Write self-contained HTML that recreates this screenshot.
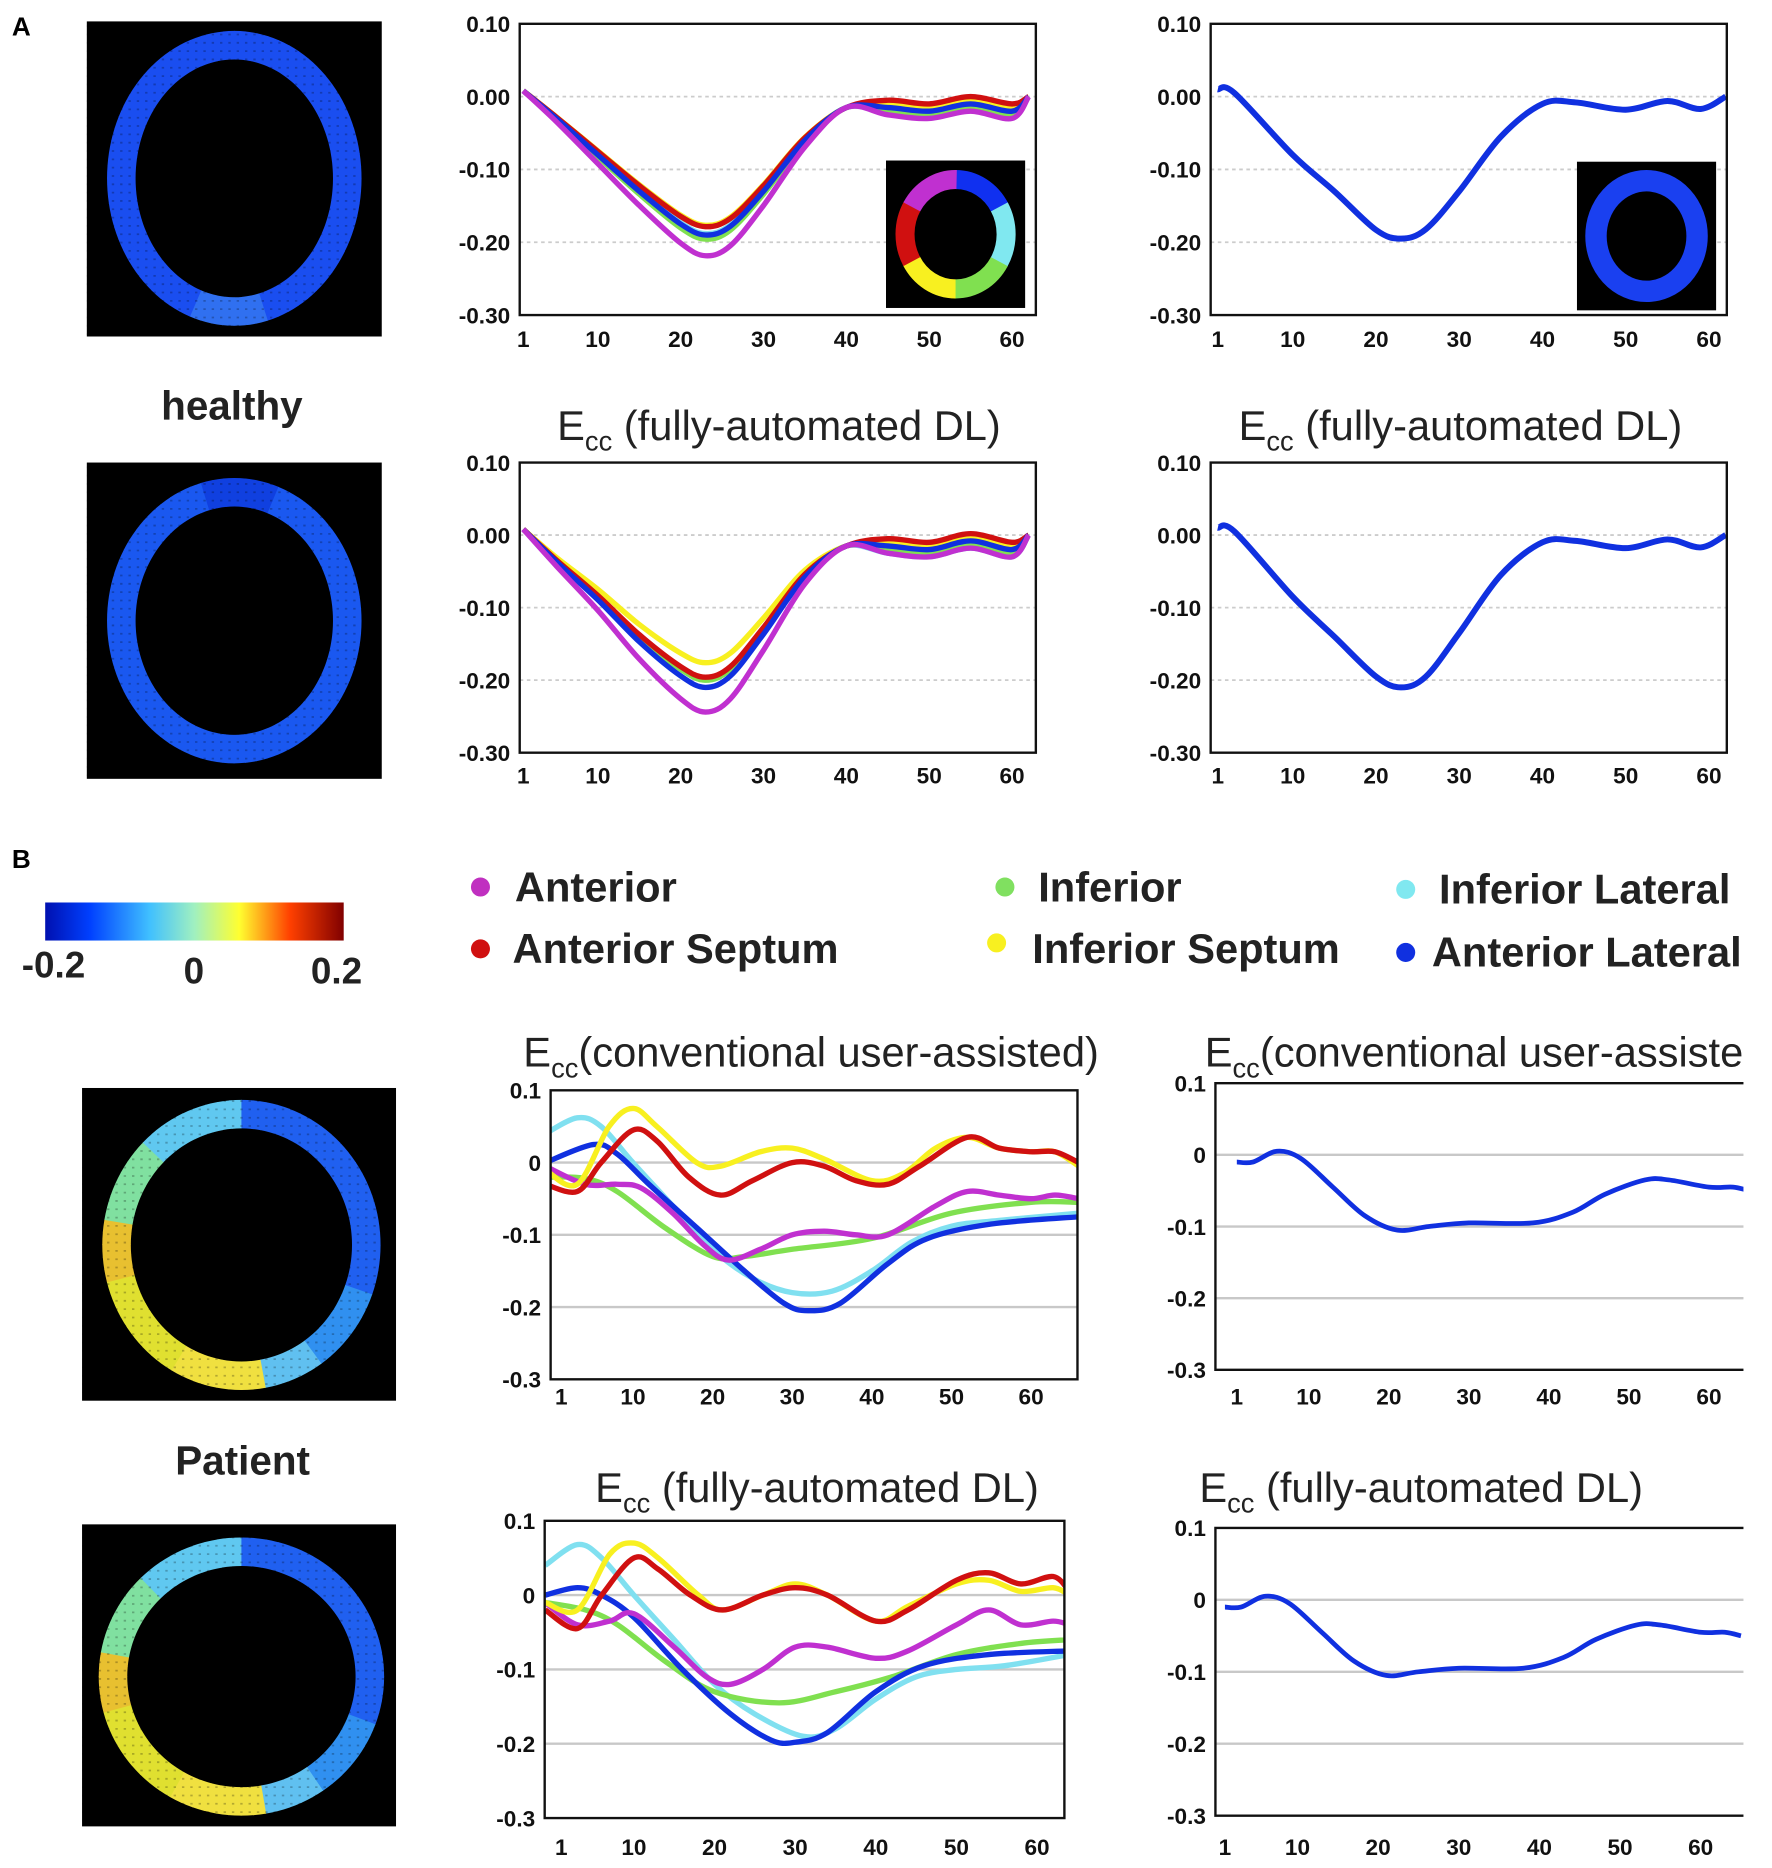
<!DOCTYPE html>
<html><head><meta charset="utf-8"><style>
html,body{margin:0;padding:0;background:#fff;}
svg{display:block;}
.t{font-family:"Liberation Sans",sans-serif;}
.tk{font-family:"Liberation Sans",sans-serif;font-weight:bold;font-size:19px;fill:#111;}
.ti{font-family:"Liberation Sans",sans-serif;font-size:35px;fill:#222;}
.lg{font-family:"Liberation Sans",sans-serif;font-weight:bold;font-size:35px;fill:#222;}
</style></head><body>
<svg id="s" width="1772" height="1868" viewBox="0 0 1490 1571" preserveAspectRatio="none" xmlns="http://www.w3.org/2000/svg">
<rect width="1490" height="1571" fill="#fff"/>
<text x="10" y="30" class="t" font-weight="bold" font-size="22">A</text>
<text x="10" y="730" class="t" font-weight="bold" font-size="22">B</text>
<text x="195" y="353" class="t" font-weight="bold" font-size="34" text-anchor="middle" fill="#222">healthy</text>
<text x="204" y="1240" class="t" font-weight="bold" font-size="34" text-anchor="middle" fill="#222">Patient</text>
<text x="655" y="370" class="ti" text-anchor="middle">E<tspan font-size="23" dy="9">cc</tspan><tspan dy="-9"> (fully-automated DL)</tspan></text>
<text x="1228" y="370" class="ti" text-anchor="middle">E<tspan font-size="23" dy="9">cc</tspan><tspan dy="-9"> (fully-automated DL)</tspan></text>
<text x="682" y="897" class="ti" text-anchor="middle">E<tspan font-size="23" dy="9">cc</tspan><tspan dy="-9">(conventional user-assisted)</tspan></text>
<svg x="0" y="850" width="1466" height="80" overflow="hidden"><text x="1013" y="47" class="ti">E<tspan font-size="23" dy="9">cc</tspan><tspan dy="-9">(conventional user-assisted)</tspan></text></svg>
<text x="687" y="1263" class="ti" text-anchor="middle">E<tspan font-size="23" dy="9">cc</tspan><tspan dy="-9"> (fully-automated DL)</tspan></text>
<text x="1195" y="1263" class="ti" text-anchor="middle">E<tspan font-size="23" dy="9">cc</tspan><tspan dy="-9"> (fully-automated DL)</tspan></text>
<defs>
<linearGradient id="jet" x1="0" x2="1">
<stop offset="0" stop-color="#0010b0"/><stop offset="0.15" stop-color="#0040ff"/><stop offset="0.35" stop-color="#40c0ff"/><stop offset="0.5" stop-color="#a0f0c0"/><stop offset="0.65" stop-color="#ffff30"/><stop offset="0.82" stop-color="#ff4000"/><stop offset="1" stop-color="#800000"/>
</linearGradient>
</defs>
<rect x="38" y="759" width="251" height="32" fill="url(#jet)"/>
<text x="45" y="822" class="t" font-weight="bold" font-size="31" text-anchor="middle" fill="#222">-0.2</text>
<text x="163" y="827" class="t" font-weight="bold" font-size="31" text-anchor="middle" fill="#222">0</text>
<text x="283" y="827" class="t" font-weight="bold" font-size="31" text-anchor="middle" fill="#222">0.2</text>
<circle cx="404" cy="746" r="8" fill="#c030c0"/><text x="433" y="758" class="lg">Anterior</text>
<circle cx="845" cy="746" r="8" fill="#80e060"/><text x="873" y="758" class="lg">Inferior</text>
<circle cx="1182" cy="748" r="8" fill="#80e8f0"/><text x="1210" y="760" class="lg">Inferior Lateral</text>
<circle cx="404" cy="798" r="8" fill="#d01010"/><text x="431" y="810" class="lg">Anterior Septum</text>
<circle cx="838" cy="793" r="8" fill="#f8f020"/><text x="868" y="810" class="lg">Inferior Septum</text>
<circle cx="1182" cy="801" r="8" fill="#1030e0"/><text x="1204" y="813" class="lg">Anterior Lateral</text>
<g id="g"></g>
</svg>
<script>
var NS="http://www.w3.org/2000/svg",G=document.getElementById('g');
function el(t,a,p){var e=document.createElementNS(NS,t);for(var k in a)e.setAttribute(k,a[k]);(p||G).appendChild(e);return e;}
function txt(x,y,s,c,anc){var e=el('text',{x:x,y:y,'class':c,'text-anchor':anc||'middle'});e.textContent=s;return e;}
function heat(x0,y0,x1,y1,rx,ry,cx,cy,segs){
  el('rect',{x:x0,y:y0,width:x1-x0,height:y1-y0,fill:'#000'});
  var N=72;
  for(var i=0;i<N;i++){var a0=i/N*2*Math.PI,a1=(i+1.05)/N*2*Math.PI;
    var c=segs(i/N);
    var p='M'+(cx+rx*Math.cos(a0))+' '+(cy+ry*Math.sin(a0))+' A'+rx+' '+ry+' 0 0 1 '+(cx+rx*Math.cos(a1))+' '+(cy+ry*Math.sin(a1));
    el('path',{d:p,stroke:c,'stroke-width':24,fill:'none'});}
  var pat='';
  for(var yy=y0+4;yy<y1;yy+=7)pat+='M'+x0+' '+yy+'H'+x1;
  el('path',{d:pat,stroke:'rgba(0,0,0,0.25)','stroke-width':1.5,'stroke-dasharray':'2 5',fill:'none'});
}
heat(73,18,321,283,95,112,197,150,function(t){return t>0.2&&t<0.3?'#3070f0':'#1a4ef0';});
heat(73,389,321,655,95,108,197,522,function(t){return t>0.7&&t<0.8?'#1040e0':'#1a58f0';});
function pat(t){
 if(t>0.22&&t<0.33)return '#f0e040';
 if(t>=0.33&&t<0.45)return '#e0e030';
 if(t>=0.45&&t<0.52)return '#e8c030';
 if(t>=0.52&&t<0.62)return '#80e0a0';
 if(t>=0.62&&t<0.74)return '#60c8f0';
 if(t>=0.15&&t<=0.22)return '#60c0f0';
 if(t>=0.05&&t<0.15)return '#3090f0';
 return '#2060f0';}
heat(69,915,333,1178,105,110,203,1047,pat);
heat(69,1282,333,1536,108,105,203,1410,pat);
function cr(pts){
 var d='M'+pts[0][0]+' '+pts[0][1];
 for(var i=0;i<pts.length-1;i++){var p0=pts[i-1]||pts[i],p1=pts[i],p2=pts[i+1],p3=pts[i+2]||p2;
  d+=' C'+(p1[0]+(p2[0]-p0[0])/6)+' '+(p1[1]+(p2[1]-p0[1])/6)+' '+(p2[0]-(p3[0]-p1[0])/6)+' '+(p2[1]-(p3[1]-p1[1])/6)+' '+p2[0]+' '+p2[1];}
 return d;}
function chart(o){
 var fx=function(v){return o.x1p+(v-1)*(o.x60p-o.x1p)/59;};
 var fy=function(v){return o.y0+(o.ymax-v)/(o.ymax-o.ymin)*(o.y1-o.y0);};
 for(var i=0;i<o.yt.length;i++){var v=o.yt[i],y=fy(v);
  if(i>0&&i<o.yt.length-1)el('line',{x1:o.x0,x2:o.x1,y1:y,y2:y,stroke:o.dot?'#ccc':'#c8c8c8','stroke-width':o.dot?1.5:2,'stroke-dasharray':o.dot?'3 3':'none'});
  txt(o.x0-8,y+7,o.yl[i],'tk','end');}
 var cl='c'+Math.round(o.x0)+Math.round(o.y0);
 var cp=el('clipPath',{id:cl});el('rect',{x:o.x0,y:o.y0-10,width:o.x1-o.x0,height:o.y1-o.y0+20},cp);
 var g=el('g',{'clip-path':'url(#'+cl+')'});
 o.series.forEach(function(s){var pts=s[1].map(function(p){return [fx(p[0]),fy(p[1])];});
  el('path',{d:cr(pts),stroke:s[0],'stroke-width':o.w||4.5,fill:'none','stroke-linejoin':'round'},g);});
 var b;
 if(o.noright)b='M'+o.x1+' '+o.y0+' H'+o.x0+' V'+o.y1+' H'+o.x1;
 else b='M'+o.x0+' '+o.y0+' H'+o.x1+' V'+o.y1+' H'+o.x0+' Z';
 el('path',{d:b,stroke:'#111','stroke-width':2,fill:'none'});
 [1,10,20,30,40,50,60].forEach(function(v){txt(fx(v),o.xly,String(v),'tk');});
 return {fx:fx,fy:fy};}
var MAG='#c030d0',RED='#d01010',YEL='#f8f020',GRN='#80e050',CYA='#80e0f0',BLU='#1030e0';
function hA(k,e){return [[1,0.008],[5,-0.03*k],[10,-0.08*k],[15,-0.13*k],[20,-0.175*k],[23,-0.19*k],[26,-0.178*k],[30,-0.13*k],[35,-0.06*k],[40,-0.015],[45,-0.01-e],[50,-0.015-e],[55,-0.005-e],[60,-0.015-e],[62,0]];}
function hB(k,e){return [[1,0.008],[5,-0.035*k],[10,-0.085*k],[15,-0.14*k],[20,-0.185*k],[23,-0.2*k],[26,-0.185*k],[30,-0.13*k],[35,-0.055*k],[40,-0.015],[45,-0.01-e],[50,-0.015-e],[55,-0.003-e],[60,-0.015-e],[62,0]];}
var A1={x0:437,x1:871,y0:20,y1:265,ymax:0.1,ymin:-0.3,x1p:440,x60p:851,xly:292,dot:1,
 yt:[0.1,0,-0.1,-0.2,-0.3],yl:['0.10','0.00','-0.10','-0.20','-0.30'],
 series:[[CYA,hA(0.99,0.012)],[YEL,hA(0.93,0)],[RED,hA(0.94,-0.005)],[GRN,hA(1.03,0.01)],[BLU,hA(1.0,0.005)],[MAG,hA(1.15,0.015)]]};
chart(A1);
var A2=Object.assign({},A1,{x0:1018,x1:1452,x1p:1024,x60p:1437,series:[[BLU,[[1,0.01],[3,0.005],[10,-0.08],[15,-0.13],[20,-0.183],[23,-0.195],[26,-0.182],[30,-0.13],[35,-0.055],[40,-0.01],[44,-0.008],[50,-0.018],[55,-0.006],[59,-0.017],[62,0]]]],w:5});
chart(A2);
var A3=Object.assign({},A1,{y0:389,y1:633,xly:659,series:[[CYA,hB(1.0,0.015)],[GRN,hB(1.0,0.01)],[YEL,hB(0.88,0)],[RED,hB(0.98,-0.005)],[BLU,hB(1.05,0.005)],[MAG,hB(1.22,0.015)]]});
chart(A3);
var A4=Object.assign({},A2,{y0:389,y1:633,xly:659,series:[[BLU,[[1,0.01],[3,0.005],[10,-0.085],[15,-0.14],[20,-0.195],[23,-0.21],[26,-0.195],[30,-0.135],[35,-0.055],[40,-0.01],[44,-0.008],[50,-0.018],[55,-0.006],[59,-0.017],[62,0]]]]});
chart(A4);
var B1={x0:463,x1:906,y0:917,y1:1160,ymax:0.1,ymin:-0.3,x1p:472,x60p:867,xly:1181,
 yt:[0.1,0,-0.1,-0.2,-0.3],yl:['0.1','0','-0.1','-0.2','-0.3'],
 series:[
 [CYA,[[-1,0.04],[3,0.062],[6,0.05],[10,0.0],[15,-0.06],[20,-0.12],[25,-0.16],[30,-0.18],[35,-0.178],[40,-0.15],[45,-0.11],[50,-0.088],[56,-0.08],[66,-0.07]]],
 [GRN,[[-1,-0.02],[4,-0.022],[8,-0.04],[14,-0.09],[20,-0.13],[24,-0.13],[30,-0.12],[40,-0.105],[50,-0.07],[60,-0.055],[66,-0.055]]],
 [BLU,[[-1,0.0],[5,0.025],[8,0.012],[12,-0.03],[18,-0.09],[24,-0.15],[29,-0.195],[32,-0.205],[36,-0.195],[42,-0.14],[47,-0.105],[55,-0.085],[66,-0.075]]],
 [MAG,[[-1,-0.005],[4,-0.03],[8,-0.03],[11,-0.035],[15,-0.07],[19,-0.115],[22,-0.135],[26,-0.12],[30,-0.1],[34,-0.095],[38,-0.1],[42,-0.1],[48,-0.06],[52,-0.04],[56,-0.045],[60,-0.05],[63,-0.045],[66,-0.05]]],
 [YEL,[[-1,-0.01],[3,-0.03],[7,0.05],[10,0.075],[13,0.05],[18,0.0],[21,-0.005],[26,0.015],[30,0.02],[34,0.005],[40,-0.025],[44,-0.015],[48,0.02],[52,0.035],[56,0.02],[60,0.015],[63,0.015],[66,-0.005]]],
 [RED,[[-1,-0.03],[3,-0.04],[6,0.0],[10,0.045],[13,0.03],[17,-0.02],[21,-0.045],[25,-0.025],[30,0.0],[34,-0.005],[38,-0.025],[42,-0.03],[46,-0.005],[52,0.035],[56,0.02],[60,0.015],[63,0.015],[66,0.0]]]
 ]};
chart(B1);
var bb=[[1,-0.01],[3,-0.01],[6,0.005],[9,-0.005],[13,-0.045],[17,-0.085],[21,-0.105],[25,-0.1],[30,-0.095],[38,-0.095],[43,-0.08],[47,-0.055],[52,-0.035],[55,-0.035],[60,-0.045],[63,-0.045],[65,-0.05]];
chart({x0:1022,x1:1466,y0:911,y1:1152,ymax:0.1,ymin:-0.3,x1p:1040,x60p:1437,xly:1181,noright:1,w:4,
 yt:[0.1,0,-0.1,-0.2,-0.3],yl:['0.1','0','-0.1','-0.2','-0.3'],series:[[BLU,bb]]});
var B3={x0:458,x1:895,y0:1279,y1:1529,ymax:0.1,ymin:-0.3,x1p:472,x60p:872,xly:1560,
 yt:[0.1,0,-0.1,-0.2,-0.3],yl:['0.1','0','-0.1','-0.2','-0.3'],
 series:[
 [CYA,[[-1,0.04],[3,0.068],[6,0.05],[10,0.0],[15,-0.06],[20,-0.12],[25,-0.16],[31,-0.19],[35,-0.18],[40,-0.14],[45,-0.11],[50,-0.1],[56,-0.095],[64,-0.08]]],
 [GRN,[[-1,-0.01],[4,-0.02],[8,-0.04],[14,-0.09],[20,-0.13],[28,-0.145],[35,-0.13],[42,-0.11],[50,-0.08],[58,-0.065],[64,-0.06]]],
 [BLU,[[-1,0.0],[3,0.01],[6,0.0],[10,-0.03],[16,-0.1],[22,-0.16],[27,-0.195],[30,-0.198],[34,-0.185],[40,-0.13],[46,-0.095],[54,-0.08],[64,-0.075]]],
 [MAG,[[-1,-0.01],[3,-0.04],[7,-0.035],[10,-0.025],[15,-0.07],[19,-0.11],[22,-0.12],[26,-0.1],[30,-0.07],[34,-0.07],[40,-0.085],[44,-0.075],[50,-0.04],[54,-0.02],[58,-0.04],[62,-0.035],[64,-0.04]]],
 [YEL,[[-1,-0.01],[3,-0.02],[7,0.055],[10,0.07],[13,0.05],[18,0.0],[21,-0.02],[26,0.0],[30,0.015],[34,0.0],[40,-0.035],[44,-0.015],[50,0.015],[54,0.02],[58,0.005],[62,0.01],[64,0.0]]],
 [RED,[[-1,-0.02],[3,-0.045],[6,0.0],[10,0.05],[13,0.035],[17,0.0],[21,-0.02],[26,0.0],[30,0.01],[34,0.0],[40,-0.035],[44,-0.02],[50,0.02],[54,0.03],[58,0.015],[62,0.025],[64,0.005]]]
 ]};
chart(B3);
chart({x0:1022,x1:1466,y0:1285,y1:1527,ymax:0.1,ymin:-0.3,x1p:1030,x60p:1430,xly:1560,noright:1,w:4,
 yt:[0.1,0,-0.1,-0.2,-0.3],yl:['0.1','0','-0.1','-0.2','-0.3'],series:[[BLU,bb]]});
function inset(x0,y0,x1,y1,cols){el('rect',{x:x0,y:y0,width:x1-x0,height:y1-y0,fill:'#000'});
 var cx=(x0+x1)/2,cy=(y0+y1)/2,rx=(x1-x0)/2-16,ry=(y1-y0)/2-16,n=cols.length;
 if(n==1){el('ellipse',{cx:cx,cy:cy,rx:rx,ry:ry,stroke:cols[0],'stroke-width':18,fill:'none'});return;}
 for(var i=0;i<n;i++){var a0=i/n*2*Math.PI-Math.PI/2,a1=(i+1.02)/n*2*Math.PI-Math.PI/2;
  el('path',{d:'M'+(cx+rx*Math.cos(a0))+' '+(cy+ry*Math.sin(a0))+' A'+rx+' '+ry+' 0 0 1 '+(cx+rx*Math.cos(a1))+' '+(cy+ry*Math.sin(a1)),stroke:cols[i],'stroke-width':16,fill:'none'});}}
inset(745,135,862,259,['#1030f0','#80e8f0','#80e050','#f8f020','#d01010','#c030d0']);
inset(1326,136,1443,261,['#1a40f0']);
</script>
</body></html>
